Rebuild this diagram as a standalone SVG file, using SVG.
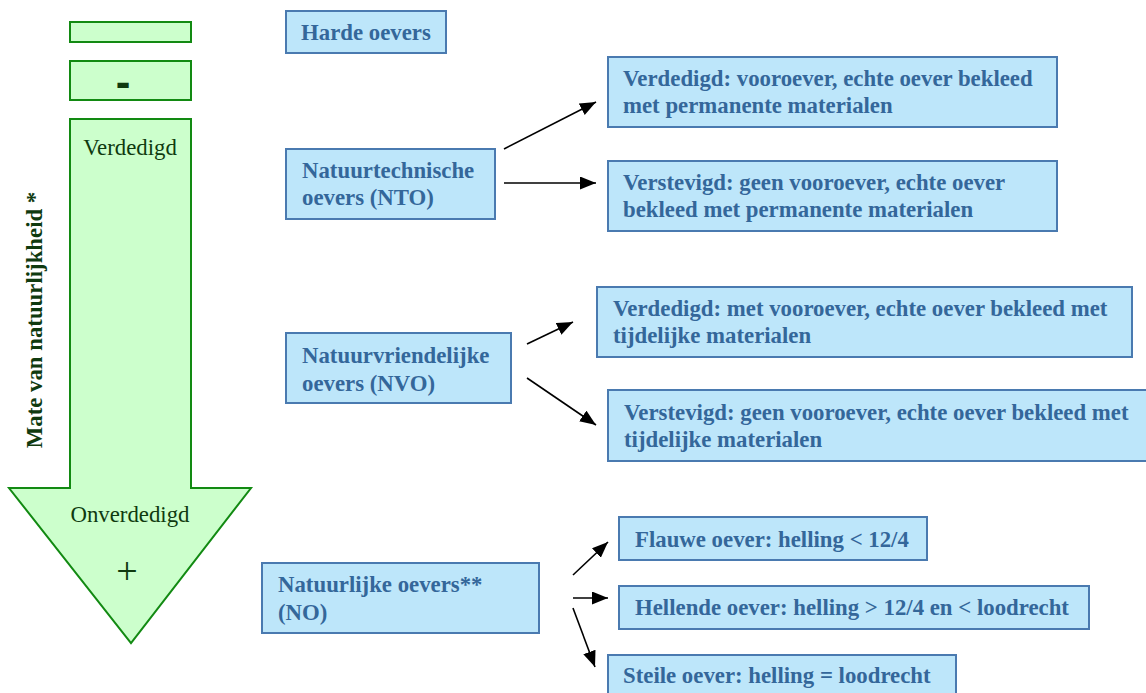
<svg xmlns="http://www.w3.org/2000/svg" width="1146" height="693" viewBox="0 0 1146 693">
<style>
.g{fill:#CCFFCC;stroke:#128A12;stroke-width:2}
.gt{font-family:'Liberation Serif','Times New Roman',Times,serif;fill:#0F3A0F;font-size:22.8px}
.b{fill:#BDE6FA;stroke:#4A7AB0;stroke-width:2}
.bt{font-family:'Liberation Serif','Times New Roman',Times,serif;font-weight:bold;fill:#34679A;font-size:22.8px}
.c{stroke:#000;stroke-width:1.6;fill:none;marker-end:url(#ah)}
</style>
<defs>
<marker id="ah" markerUnits="userSpaceOnUse" markerWidth="18" markerHeight="14" refX="16" refY="6.5" orient="auto">
<path d="M0,0 L16,6.5 L0,13 Z" fill="#000"/>
</marker>
</defs>
<rect width="1146" height="693" fill="#fff"/>
<g id="scale">
<rect class="g" x="70" y="22" width="121" height="20"/>
<rect class="g" x="70" y="61" width="121" height="39"/>
<text x="123" y="97" text-anchor="middle" font-family="Liberation Sans, Arial, sans-serif" font-weight="bold" font-size="44" fill="#0F3A0F">-</text>
<polygon class="g" points="70,119 191,119 191,488 251,488 131,643 9,488 70,488"/>
<text class="gt" x="130" y="155" text-anchor="middle">Verdedigd</text>
<text class="gt" x="130" y="522" text-anchor="middle">Onverdedigd</text>
<text class="gt" x="127" y="584" text-anchor="middle" style="font-size:38px">+</text>
<text class="gt" transform="translate(42,320) rotate(-90)" text-anchor="middle" style="font-weight:bold">Mate van natuurlijkheid *</text>
</g>
<g id="harde">
<rect class="b" x="286" y="11" width="160" height="42"/>
<text class="bt" x="301" y="40">Harde oevers</text>
</g>
<g id="nto">
<rect class="b" x="286" y="149" width="209" height="70"/>
<text class="bt" x="302" y="178">Natuurtechnische</text>
<text class="bt" x="302" y="205">oevers (NTO)</text>
</g>
<g id="nto-verdedigd">
<rect class="b" x="608" y="57" width="449" height="70"/>
<text class="bt" x="623" y="86">Verdedigd: vooroever, echte oever bekleed</text>
<text class="bt" x="623" y="113">met permanente materialen</text>
</g>
<g id="nto-verstevigd">
<rect class="b" x="608" y="161" width="449" height="70"/>
<text class="bt" x="623" y="190">Verstevigd: geen vooroever, echte oever</text>
<text class="bt" x="623" y="217">bekleed met permanente materialen</text>
</g>
<g id="nvo">
<rect class="b" x="286" y="333" width="225" height="70"/>
<text class="bt" x="302" y="363">Natuurvriendelijke</text>
<text class="bt" x="302" y="391">oevers (NVO)</text>
</g>
<g id="nvo-verdedigd">
<rect class="b" x="597" y="287" width="535" height="70"/>
<text class="bt" x="613" y="316">Verdedigd: met vooroever, echte oever bekleed met</text>
<text class="bt" x="613" y="343">tijdelijke materialen</text>
</g>
<g id="nvo-verstevigd">
<rect class="b" x="608" y="390" width="540" height="71"/>
<text class="bt" x="624" y="420">Verstevigd: geen vooroever, echte oever bekleed met</text>
<text class="bt" x="624" y="447">tijdelijke materialen</text>
</g>
<g id="no">
<rect class="b" x="262" y="563" width="277" height="70"/>
<text class="bt" x="278" y="592">Natuurlijke oevers**</text>
<text class="bt" x="278" y="620">(NO)</text>
</g>
<g id="flauwe">
<rect class="b" x="619" y="517" width="308" height="43"/>
<text class="bt" x="635" y="547">Flauwe oever: helling &lt; 12/4</text>
</g>
<g id="hellende">
<rect class="b" x="619" y="586" width="470" height="43"/>
<text class="bt" x="635" y="615">Hellende oever: helling &gt; 12/4 en &lt; loodrecht</text>
</g>
<g id="steile">
<rect class="b" x="608" y="655" width="348" height="45"/>
<text class="bt" x="623" y="683">Steile oever: helling = loodrecht</text>
</g>
<g id="connectors">
<line class="c" x1="504" y1="149" x2="596" y2="102"/>
<line class="c" x1="504" y1="183" x2="596" y2="183"/>
<line class="c" x1="527" y1="344" x2="573" y2="322"/>
<line class="c" x1="527" y1="378" x2="596" y2="425"/>
<line class="c" x1="573" y1="575" x2="608" y2="542"/>
<line class="c" x1="573" y1="598" x2="608" y2="598"/>
<line class="c" x1="573" y1="608" x2="595" y2="667"/>
</g>
</svg>
